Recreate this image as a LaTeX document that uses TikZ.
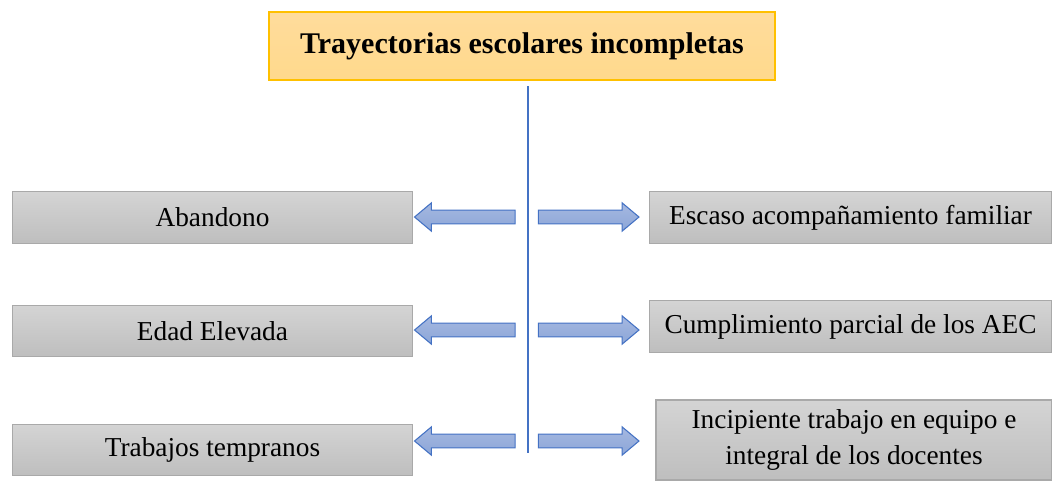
\documentclass[tikz,border=0pt]{standalone}
\usepackage{fontspec}
\setmainfont{Liberation Serif}
\usetikzlibrary{shapes.arrows}

\definecolor{titlefill}{HTML}{FFD98C}
\definecolor{titletop}{HTML}{FFDC9C}
\definecolor{titleline}{HTML}{FFC000}
\definecolor{boxtop}{HTML}{D4D4D4}
\definecolor{boxbot}{HTML}{BEBEBE}
\definecolor{boxline}{HTML}{A9A9A9}
\definecolor{arrowtop}{HTML}{A5B8E0}
\definecolor{arrowbot}{HTML}{8CA6D8}
\definecolor{arrowline}{HTML}{4472C4}

\tikzset{
  titlebox/.style={draw=titleline, line width=1.2pt, top color=titletop, bottom color=titlefill,
    minimum width=379.5pt, minimum height=51pt, inner sep=0pt,
    font=\fontsize{22.5}{27}\selectfont\bfseries},
  itembox/.style={draw=boxline, line width=0.8pt, top color=boxtop, bottom color=boxbot,
    minimum height=38.5pt, inner sep=0pt, align=center,
    font=\fontsize{20.5}{27}\selectfont},
  blockarrow/.style={single arrow, draw=arrowline, line width=0.8pt,
    top color=arrowtop, bottom color=arrowbot, shading angle=0,
    inner sep=0pt, inner ysep=4.8pt, minimum height=75.5pt,
    single arrow head extend=5.4pt, single arrow tip angle=80, single arrow head indent=0pt},
  toleft/.style={blockarrow, shape border rotate=180},
}

\begin{document}
\begin{tikzpicture}[x=0.75pt, y=-0.75pt]
  \useasboundingbox (0,0) rectangle (1052,480);

  % title and stem
  \node[titlebox] (titulo) at (522,46) {Trayectorias escolares incompletas};
  \coordinate (stemtop) at (528,86);
  \coordinate (stembot) at (528,453);
  \draw[arrowline, line width=0.9pt] (stemtop) -- (stembot);

  % left column
  \node[itembox, minimum width=299.5pt] (abandono) at (212.5,217.5) {Abandono};
  \node[itembox, minimum width=299.5pt] (edad) at (212.5,331) {Edad Elevada};
  \node[itembox, minimum width=299.5pt] (trabajos) at (212.5,450) {Trabajos tempranos};

  % right column
  \node[itembox, minimum width=302pt] (escaso) at (850.5,217.5) {Escaso acompañamiento familiar};
  \node[itembox, minimum width=302pt] (cumplimiento) at (850.5,326.5) {Cumplimiento parcial de los AEC};
  \node[itembox, minimum width=297pt, minimum height=60pt] (incipiente) at (854,440)
    {Incipiente trabajo en equipo e\\integral de los docentes};

  % arrows
  \node[toleft] (fl1) at (469,217) {};
  \node[toleft] (fl2) at (469,330) {};
  \node[toleft] (fl3) at (469,441) {};
  \node[blockarrow] (fr1) at (584.5,217) {};
  \node[blockarrow] (fr2) at (584.5,330) {};
  \node[blockarrow] (fr3) at (584.5,441) {};
\end{tikzpicture}
\end{document}
